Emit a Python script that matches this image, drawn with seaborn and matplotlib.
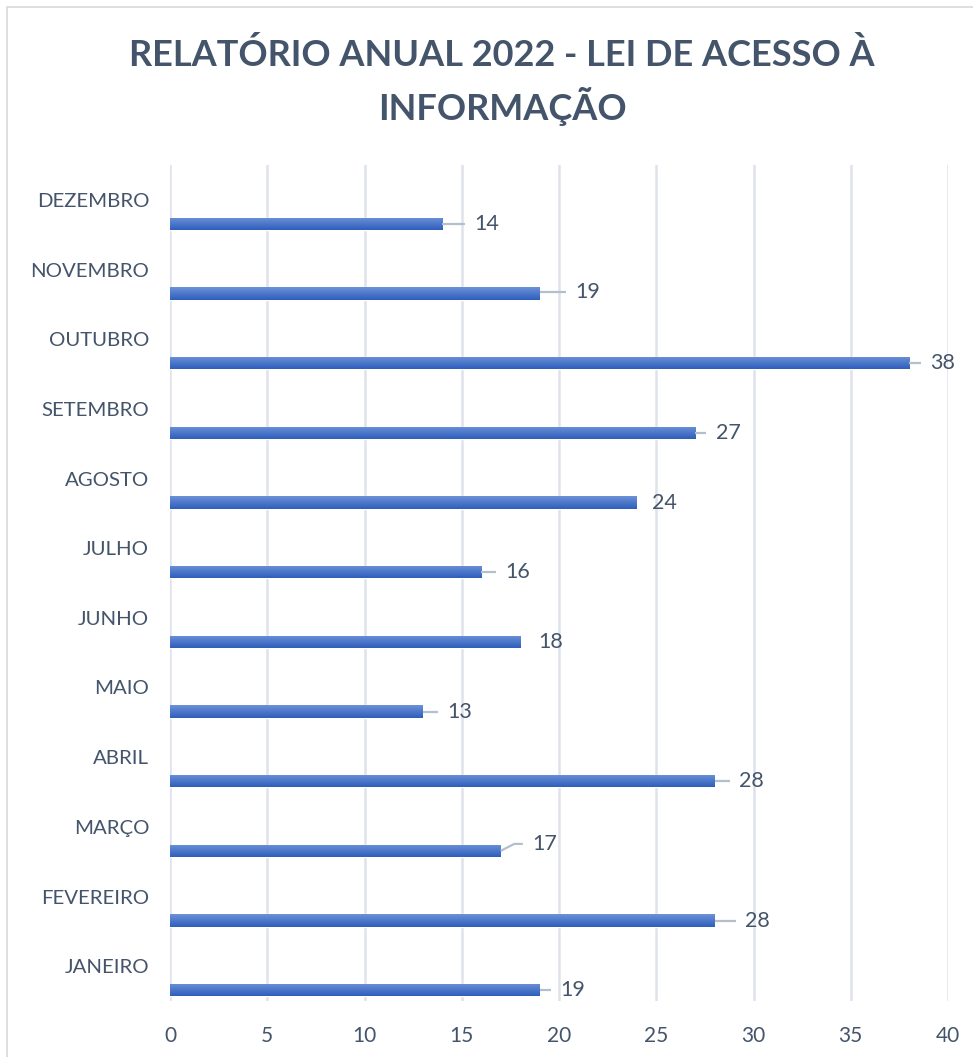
import numpy as np
import pandas as pd
import matplotlib
matplotlib.use('Agg')
import matplotlib.pyplot as plt
import matplotlib.colors as mcolors
from matplotlib.patches import Rectangle
import seaborn as sns

# dados do relatorio (janeiro -> dezembro)
meses = ['JANEIRO', 'FEVEREIRO', 'MARÇO', 'ABRIL', 'MAIO', 'JUNHO',
         'JULHO', 'AGOSTO', 'SETEMBRO', 'OUTUBRO', 'NOVEMBRO', 'DEZEMBRO']
pedidos = [19, 28, 17, 28, 13, 18, 16, 24, 27, 38, 19, 14]
x_ticks = [0, 5, 10, 15, 20, 25, 30, 35, 40]

# posicao dos rotulos de dados (deslocamento a partir do fim da barra)
label_dx = [1.7, 2.2, 2.26, 1.9, 1.9, 1.56, 1.9, 1.44, 1.7, 1.72, 2.5, 2.27]
label_dy = [0, 0, 0.1, 0, 0, 0, 0, 0, 0, 0, 0.015, 0]

txt_color = '#44546A'
grid_color = '#DEE2EA'
leader_color = '#B4BFCE'

sns.set_theme(style='white')
plt.rcParams['font.family'] = ['Lato', 'DejaVu Sans']

df = pd.DataFrame({'mes': meses, 'pedidos': pedidos})
df['pos'] = np.arange(len(meses)) - 0.345

fig = plt.figure(figsize=(9.73, 10.57), dpi=100)
ax = fig.add_axes([170 / 973, 1 - 1001 / 1057, 778 / 973, 836 / 1057])

sns.barplot(data=df, x='pedidos', y='pos', orient='y', native_scale=True,
            width=0.18, color='#4472C4', ax=ax, zorder=3)

# gradiente nas barras (claro em cima, escuro embaixo)
cmap = mcolors.LinearSegmentedColormap.from_list('g', ['#2E5EBC', '#6C92D8'])
grad = np.linspace(0, 1, 64).reshape(-1, 1)
for p in list(ax.patches):
    x0, y0 = p.get_x(), p.get_y()
    w, h = p.get_width(), p.get_height()
    im = ax.imshow(grad, cmap=cmap, aspect='auto', origin='lower',
                   extent=[x0, x0 + w, y0, y0 + h], zorder=4)
    im.set_clip_path(p)

# rotulos com linhas guia
for i, v in enumerate(pedidos):
    yb = df['pos'][i]
    cx = v + label_dx[i]
    cy = yb + label_dy[i]
    lead_end = cx - 1.12
    if lead_end - v > 0.5:
        if label_dy[i] > 0.05:
            ax.plot([v, v + 0.7, lead_end], [yb, cy, cy], color=leader_color, lw=1.6, zorder=5,
                    solid_capstyle='butt')
        else:
            ax.plot([v, lead_end], [cy, cy], color=leader_color, lw=1.6, zorder=5,
                    solid_capstyle='butt')
    ax.text(cx, cy, str(v), ha='center', va='center', fontsize=15.5, color=txt_color, zorder=6)

ax.set_xlim(0, 40)
ax.set_ylim(-0.5, 11.5)
ax.set_xticks(x_ticks)
ax.set_xticklabels([str(t) for t in x_ticks])
ax.set_yticks(np.arange(len(meses)))
ax.set_yticklabels(meses)
ax.tick_params(axis='x', length=0, pad=18, labelsize=15, labelcolor=txt_color)
ax.tick_params(axis='y', length=0, pad=15, labelsize=14.7, labelcolor=txt_color)
ax.set_xlabel('')
ax.set_ylabel('')
ax.xaxis.grid(True, color=grid_color, lw=1.8, zorder=0)
ax.yaxis.grid(False)
for s in ax.spines.values():
    s.set_visible(False)
ax.set_axisbelow(True)

# titulo
fig.text(502 / 973, 1 - 55 / 1057, 'RELATÓRIO ANUAL 2022 - LEI DE ACESSO À',
         ha='center', va='center', fontsize=26, fontweight='bold', color=txt_color)
fig.text(502 / 973, 1 - 107 / 1057, 'INFORMAÇÃO',
         ha='center', va='center', fontsize=26, fontweight='bold', color=txt_color)

# borda do grafico
fig.patches.append(Rectangle((7 / 973, -0.1), 1.2, 1 - 7 / 1057 + 0.1, transform=fig.transFigure,
                             fill=False, edgecolor='#D9D9D9', lw=1.2))

fig.savefig('out.png', dpi=100)
